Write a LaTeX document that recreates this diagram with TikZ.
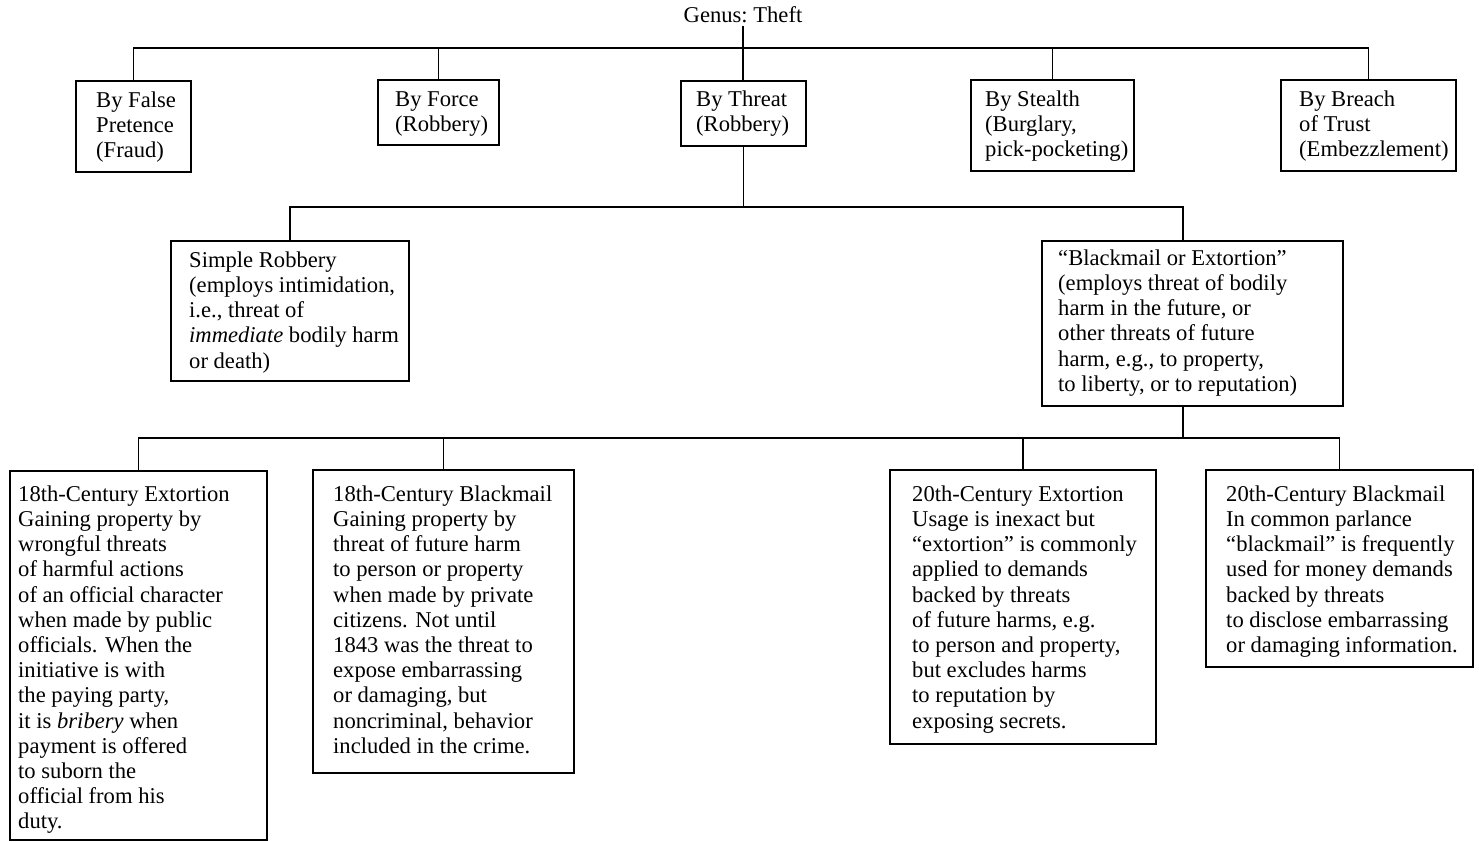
\documentclass[tikz,border=0pt]{standalone}
\usepackage{fontspec}
\setmainfont{Liberation Serif}
\newcommand\fstrut{\rule{0pt}{18pt}}
% box by its corners: name, x1, y1, x2, y2
\newcommand\boxat[5]{\node[box, minimum width={#4-#2}, minimum height={#5-#3}] (#1) at (#2,#3) {};}
\tikzset{
  box/.style={draw, line width=1.7pt, inner sep=0pt, outer sep=0pt, anchor=north west},
  txt/.style={anchor=north west, inner sep=0pt, align=left, font=\fontsize{22.6}{25.2}\selectfont},
  link/.style={line width=1.7pt},
}
\begin{document}
\begin{tikzpicture}[x=1pt,y=-1pt]
\useasboundingbox (0,0) rectangle (1479,842);

% root
\node[anchor=base, inner sep=0pt, outer sep=3pt, font=\fontsize{22.6}{25.2}\selectfont] (genus) at (743,23) {Genus:\ Theft};

% first level
\boxat{fraud}{76}{81}{191}{172}
\boxat{force}{378}{80}{499}{145}
\boxat{threat}{681}{81}{806}{146}
\boxat{stealth}{971}{80}{1134}{171}
\boxat{trust}{1281}{80}{1456}{171}
\node[txt] (fraud-t) at (96,89) {\fstrut By False\\Pretence\\(Fraud)};
\node[txt] (force-t) at (395,88) {\fstrut By Force\\(Robbery)};
\node[txt] (threat-t) at (696,88) {\fstrut By Threat\\(Robbery)};
\node[txt] (stealth-t) at (985,88) {\fstrut By Stealth\\(Burglary,\\pick-pocketing)};
\node[txt] (trust-t) at (1299,88) {\fstrut By Breach\\of Trust\\(Embezzlement)};

% second level
\boxat{simple}{171}{241}{409}{381}
\boxat{bmext}{1042}{241}{1343}{406}
\node[txt] (simple-t) at (189,249) {\fstrut Simple Robbery\\(employs intimidation,\\i.e., threat of\\\textit{immediate} bodily harm\\or death)};
\node[txt] (bmext-t) at (1058,247) {\fstrut “Blackmail or Extortion”\\(employs threat of bodily\\harm in the future, or\\other threats of future\\harm, e.g., to property,\\to liberty, or to reputation)};

% third level
\boxat{ext18}{10}{471}{267}{840}
\boxat{bm18}{313}{470}{574}{773}
\boxat{ext20}{890}{470}{1156}{744}
\boxat{bm20}{1206}{470}{1473}{667}
\node[txt] (ext18-t) at (18,483) {\fstrut 18th-Century Extortion\\Gaining property by\\wrongful threats\\of harmful actions\\of an official character\\when made by public\\officials. When the\\initiative is with\\the paying party,\\it is \textit{bribery} when\\payment is offered\\to suborn the\\official from his\\duty.};
\node[txt] (bm18-t) at (333,483) {\fstrut 18th-Century Blackmail\\Gaining property by\\threat of future harm\\to person or property\\when made by private\\citizens. Not until\\1843 was the threat to\\expose embarrassing\\or damaging, but\\noncriminal, behavior\\included in the crime.};
\node[txt] (ext20-t) at (912,483) {\fstrut 20th-Century Extortion\\Usage is inexact but\\“extortion” is commonly\\applied to demands\\backed by threats\\of future harms, e.g.\\to person and property,\\but excludes harms\\to reputation by\\exposing secrets.};
\node[txt] (bm20-t) at (1226,483) {\fstrut 20th-Century Blackmail\\In common parlance\\“blackmail” is frequently\\used for money demands\\backed by threats\\to disclose embarrassing\\or damaging information.};

% connectors
\coordinate (bus1) at (743,48);
\coordinate (bus2) at (743,207);
\coordinate (bus3) at (1183,438);
\coordinate (bmin) at (1183,241);
\coordinate (bmout) at (1183,406);

\draw[link] (genus.south) -- (genus.south |- threat.north);
\draw[link] (fraud.north) |- (bus1) -| (trust.north);
\draw[link] (force.north) -- (force.north |- bus1);
\draw[link] (stealth.north) -- (stealth.north |- bus1);

\draw[link] (threat.south) -- (threat.south |- bus2);
\draw[link] (simple.north) |- (bus2) -| (bmin);

\draw[link] (bmout) -- (bus3);
\draw[link] (ext18.north) |- (bus3) -| (bm20.north);
\draw[link] (bm18.north) -- (bm18.north |- bus3);
\draw[link] (ext20.north) -- (ext20.north |- bus3);
\end{tikzpicture}
\end{document}
